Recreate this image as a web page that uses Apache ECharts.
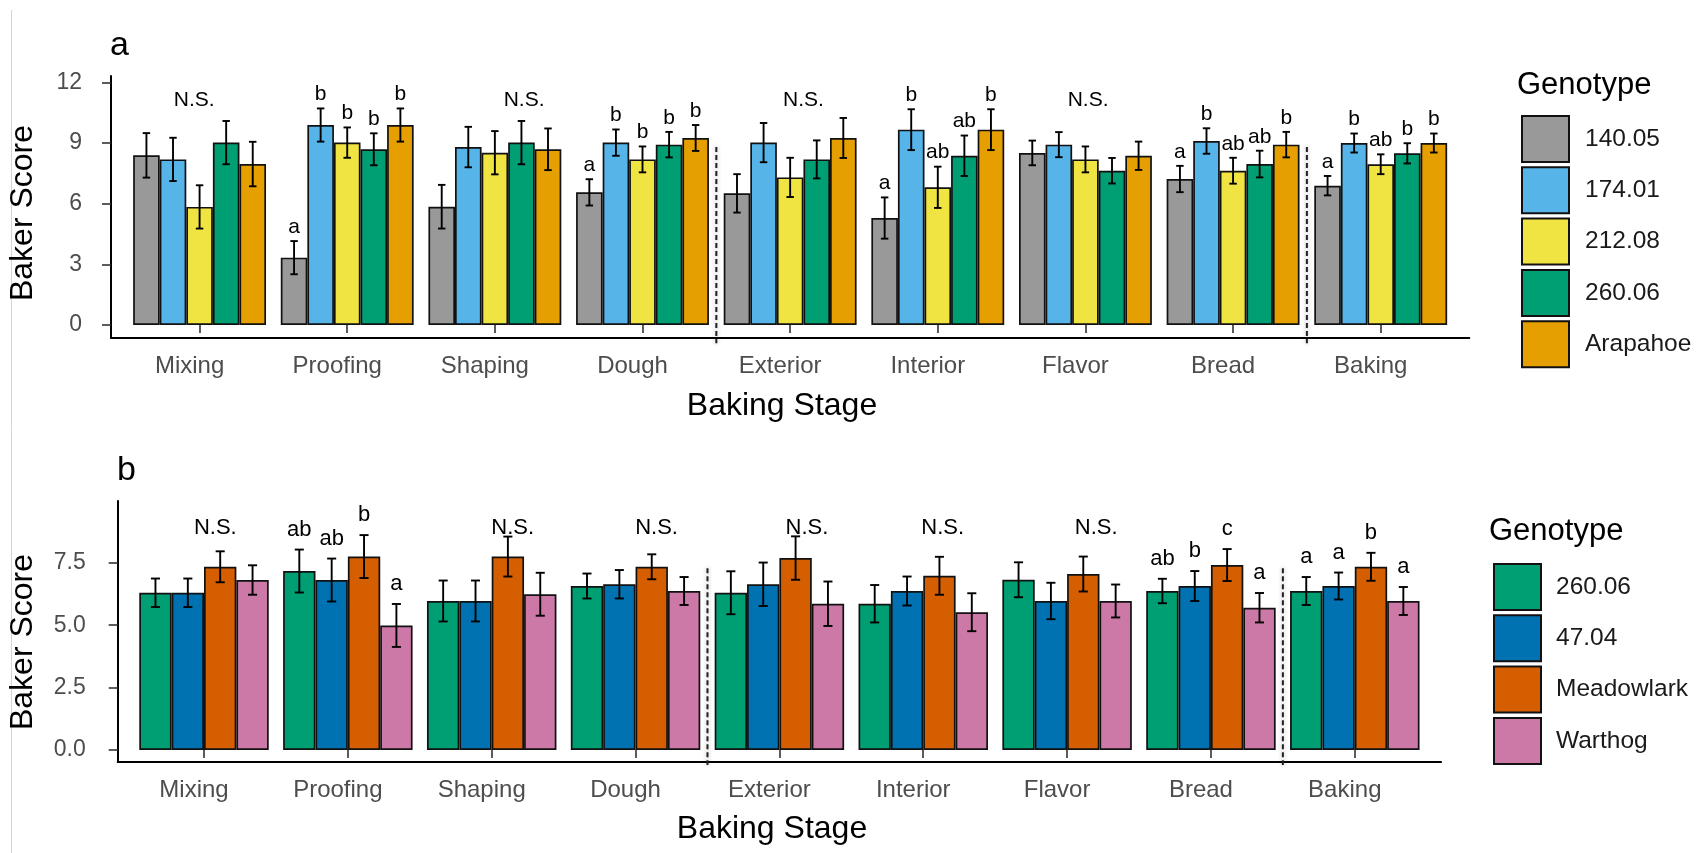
<!DOCTYPE html>
<html>
<head>
<meta charset="utf-8">
<title>Baker Score by Baking Stage</title>
<script src="https://cdn.jsdelivr.net/npm/echarts@6/dist/echarts.min.js"></script>
<style>
  html, body { margin: 0; padding: 0; background: #fff; }
  #chart { width: 1701px; height: 853px; }
</style>
</head>
<body>
<div id="chart"></div>
<script>
// ---------- data ----------
const stages = ['Mixing', 'Proofing', 'Shaping', 'Dough', 'Exterior', 'Interior', 'Flavor', 'Bread', 'Baking'];

// Panel a genotypes
const genotypesA = ['140.05', '174.01', '212.08', '260.06', 'Arapahoe'];
const meanA_14005 = [8.39, 3.33, 5.85, 6.56, 6.51, 5.29, 8.51, 7.22, 6.89];
const meanA_17401 = [8.19, 9.89, 8.80, 9.02, 9.02, 9.66, 8.92, 9.10, 9.00];
const meanA_21208 = [5.84, 9.02, 8.52, 8.19, 7.30, 6.81, 8.19, 7.63, 7.95];
const meanA_26006 = [9.02, 8.69, 9.02, 8.92, 8.19, 8.37, 7.63, 7.96, 8.49];
const meanA_Arap  = [7.96, 9.89, 8.69, 9.25, 9.25, 9.66, 8.37, 8.92, 9.00];
const seA_14005 = [1.10, 0.82, 1.08, 0.65, 0.95, 1.02, 0.61, 0.65, 0.48];
const seA_17401 = [1.07, 0.82, 1.00, 0.65, 0.97, 1.01, 0.62, 0.63, 0.47];
const seA_21208 = [1.07, 0.75, 1.07, 0.64, 0.97, 1.02, 0.64, 0.64, 0.49];
const seA_26006 = [1.07, 0.79, 1.07, 0.63, 0.94, 1.00, 0.63, 0.66, 0.50];
const seA_Arap  = [1.10, 0.82, 1.03, 0.64, 0.99, 1.01, 0.70, 0.63, 0.47];
const letA_14005 = ['', 'a', '', 'a', '', 'a', '', 'a', 'a'];
const letA_17401 = ['', 'b', '', 'b', '', 'b', '', 'b', 'b'];
const letA_21208 = ['', 'b', '', 'b', '', 'ab', '', 'ab', 'ab'];
const letA_26006 = ['', 'b', '', 'b', '', 'ab', '', 'ab', 'b'];
const letA_Arap  = ['', 'b', '', 'b', '', 'b', '', 'b', 'b'];
const groupLabelA = ['N.S.', '', 'N.S.', '', 'N.S.', '', 'N.S.', '', ''];

// Panel b genotypes
const genotypesB = ['260.06', '47.04', 'Meadowlark', 'Warthog'];
const meanB_26006 = [6.30, 7.17, 5.97, 6.57, 6.30, 5.86, 6.82, 6.37, 6.37];
const meanB_4704  = [6.30, 6.81, 5.97, 6.64, 6.64, 6.37, 5.97, 6.57, 6.57];
const meanB_Mead  = [7.34, 7.75, 7.75, 7.34, 7.69, 6.98, 7.05, 7.41, 7.34];
const meanB_Wart  = [6.81, 4.99, 6.24, 6.37, 5.86, 5.52, 5.97, 5.70, 5.97];
const seB_26006 = [0.57, 0.86, 0.82, 0.50, 0.86, 0.75, 0.70, 0.49, 0.56];
const seB_4704  = [0.57, 0.86, 0.82, 0.57, 0.87, 0.58, 0.73, 0.60, 0.54];
const seB_Mead  = [0.62, 0.86, 0.80, 0.50, 0.87, 0.76, 0.70, 0.64, 0.56];
const seB_Wart  = [0.59, 0.86, 0.86, 0.56, 0.89, 0.76, 0.66, 0.59, 0.56];
const letB_26006 = ['', 'ab', '', '', '', '', '', 'ab', 'a'];
const letB_4704  = ['', 'ab', '', '', '', '', '', 'b', 'a'];
const letB_Mead  = ['', 'b', '', '', '', '', '', 'c', 'b'];
const letB_Wart  = ['', 'a', '', '', '', '', '', 'a', 'a'];
const groupLabelB = ['N.S.', '', 'N.S.', 'N.S.', 'N.S.', 'N.S.', 'N.S.', '', ''];

const yTicksA = { max: 12, interval: 3 };
const yTicksB = { max: 7.5, interval: 2.5 };

// ---------- styling / layout ----------
const FONT = '"Liberation Sans", Arial, Helvetica, sans-serif';
const colorsA = ['#999999', '#56B4E9', '#F0E442', '#009E73', '#E69F00'];
const colorsB = ['#009E73', '#0072B2', '#D55E00', '#CC79A7'];
const TICK_GREY = '#4d4d4d';

// ggplot-like panel geometry (pixels)
const layoutA = { axisLeft: 111, axisRight: 1469.3, axisTop: 76, axisBottom: 337.7, zeroY: 325, pxPerUnit: 20.22,
                  labelMargin: 29, nsY: 11.13, nsSlot: [1.8, 0, 3.1, 0, 2.5, 0, 2.1, 0, 0],
                  letterGap: 14, letterSize: 21, dividerFrom: 8.8, dividerTo: -0.9 };
const layoutB = { axisLeft: 117.7, axisRight: 1441.1, axisTop: 501, axisBottom: 761.7, zeroY: 750, pxPerUnit: 24.96,
                  labelMargin: 32, nsY: 8.88, nsSlot: [1.85, 0, 2.15, 2.15, 2.35, 2.1, 2.4, 0, 0],
                  letterGap: 20, letterSize: 22, dividerFrom: 7.28, dividerTo: -0.6 };

function frameGrid(L) {
  return { left: L.axisLeft, top: L.axisTop, width: L.axisRight - L.axisLeft,
           height: L.axisBottom - L.axisTop, containLabel: false, outerBoundsMode: 'none' };
}
function dataGrid(L, yMax) {
  const span = L.axisRight - L.axisLeft;
  const band = span / (stages.length - 1 + 1.2);
  const left = L.axisLeft + 0.6 * band - band / 2;
  const top = L.zeroY - yMax * L.pxPerUnit;
  return { left: left, top: top, width: band * stages.length, height: L.zeroY - top,
           containLabel: false, outerBoundsMode: 'none', _yOffset: left - L.axisLeft };
}

const gA = dataGrid(layoutA, yTicksA.max);
const gB = dataGrid(layoutB, yTicksB.max);

function frameAxes(gi) {
  const line = { show: true, onZero: false, lineStyle: { color: '#000', width: 2 } };
  return {
    x: { type: 'value', gridIndex: gi, min: 0, max: 1, axisLine: line, axisTick: { show: false },
         axisLabel: { show: false }, splitLine: { show: false } },
    y: { type: 'value', gridIndex: gi, min: 0, max: 1, axisLine: line, axisTick: { show: false },
         axisLabel: { show: false }, splitLine: { show: false } }
  };
}

function dataAxes(gi, L, g, ticks, dec) {
  return {
    x: { type: 'category', gridIndex: gi, data: stages, position: 'bottom',
         offset: L.axisBottom - L.zeroY,
         axisLine: { show: false },
         axisTick: { show: true, alignWithLabel: true, length: 8, lineStyle: { color: '#333', width: 1.6 } },
         axisLabel: { show: true, interval: 0, margin: 17, fontSize: 24, fontFamily: FONT, color: TICK_GREY,
                      padding: [0, 20, 0, 0] },
         splitLine: { show: false } },
    y: { type: 'value', gridIndex: gi, min: 0, max: ticks.max, interval: ticks.interval,
         position: 'left', offset: g._yOffset,
         axisLine: { show: false },
         axisTick: { show: true, length: 9, lineStyle: { color: '#333', width: 1.6 } },
         axisLabel: { show: true, margin: L.labelMargin, fontSize: 23, fontFamily: FONT, color: TICK_GREY,
                      formatter: v => v.toFixed(dec) },
         splitLine: { show: false } }
  };
}

const fA = frameAxes(0), dA = dataAxes(1, layoutA, gA, yTicksA, 0);
const fB = frameAxes(2), dB = dataAxes(3, layoutB, gB, yTicksB, 1);

function barSeries(names, means, colors, axisIdx) {
  return names.map((name, k) => ({
    type: 'bar', name: name, xAxisIndex: axisIdx, yAxisIndex: axisIdx,
    data: means[k], barGap: '0%', barCategoryGap: '10%', clip: false, silent: true,
    itemStyle: { color: colors[k], borderColor: '#111', borderWidth: 1.7 },
    emphasis: { disabled: true }, z: 2
  }));
}

// error bars with significance letters, dodged like the bars
function errorSeries(means, ses, letters, axisIdx, L) {
  const n = means.length;
  const rows = [];
  for (let k = 0; k < n; k++) {
    for (let c = 0; c < stages.length; c++) rows.push([c, means[k][c], ses[k][c], k]);
  }
  return {
    type: 'custom', xAxisIndex: axisIdx, yAxisIndex: axisIdx, clip: false, silent: true, z: 5,
    encode: { x: 0, y: 1 }, data: rows,
    renderItem: function (params, api) {
      const c = api.value(0), m = api.value(1), s = api.value(2), k = api.value(3);
      const band = api.size([1, 0])[0];
      const bw = band * 0.9 / n;
      const x = api.coord([c, m])[0] + (k - (n - 1) / 2) * bw;
      const yt = api.coord([c, m + s])[1];
      const yb = api.coord([c, m - s])[1];
      const cap = bw * 0.14;
      const st = { stroke: '#000', lineWidth: 1.9 };
      const kids = [
        { type: 'line', shape: { x1: x, y1: yt, x2: x, y2: yb }, style: st },
        { type: 'line', shape: { x1: x - cap, y1: yt, x2: x + cap, y2: yt }, style: st },
        { type: 'line', shape: { x1: x - cap, y1: yb, x2: x + cap, y2: yb }, style: st }
      ];
      const t = letters[k][c];
      if (t) {
        kids.push({ type: 'text', style: { text: t, x: x, y: yt - L.letterGap, align: 'center',
          verticalAlign: 'middle', font: L.letterSize + 'px ' + FONT, fill: '#000' } });
      }
      return { type: 'group', children: kids };
    }
  };
}

// "N.S." labels over groups without significant differences
function groupLabelSeries(labels, n, axisIdx, L) {
  const rows = [];
  labels.forEach((t, c) => { if (t) rows.push([c, L.nsY]); });
  return {
    type: 'custom', xAxisIndex: axisIdx, yAxisIndex: axisIdx, clip: false, silent: true, z: 6,
    encode: { x: 0, y: 1 }, data: rows,
    renderItem: function (params, api) {
      const c = api.value(0), v = api.value(1);
      const band = api.size([1, 0])[0];
      const bw = band * 0.9 / n;
      const x = api.coord([c, v])[0] + (L.nsSlot[c] - (n - 1) / 2) * bw;
      const y = api.coord([c, v])[1];
      return { type: 'text', style: { text: labels[c], x: x, y: y, align: 'center', verticalAlign: 'middle',
               font: L.letterSize + 'px ' + FONT, fill: '#000' } };
    }
  };
}

// dashed separators between stage blocks
function dividerSeries(afterCats, axisIdx, L) {
  return {
    type: 'custom', xAxisIndex: axisIdx, yAxisIndex: axisIdx, clip: false, silent: true, z: 7,
    encode: { x: 0, y: 1 }, data: afterCats.map(c => [c, L.dividerFrom, L.dividerTo]),
    renderItem: function (params, api) {
      const c = api.value(0);
      const band = api.size([1, 0])[0];
      const x = api.coord([c, 0])[0] + band / 2;
      const y1 = api.coord([c, api.value(1)])[1];
      const y2 = api.coord([c, api.value(2)])[1];
      return { type: 'line', shape: { x1: x, y1: y1, x2: x, y2: y2 },
               style: { stroke: '#222', lineWidth: 2, lineDash: [5, 3],
                        shadowBlur: 4, shadowColor: 'rgba(0,0,0,0.35)' } };
    }
  };
}

const meansA = [meanA_14005, meanA_17401, meanA_21208, meanA_26006, meanA_Arap];
const sesA = [seA_14005, seA_17401, seA_21208, seA_26006, seA_Arap];
const letsA = [letA_14005, letA_17401, letA_21208, letA_26006, letA_Arap];
const meansB = [meanB_26006, meanB_4704, meanB_Mead, meanB_Wart];
const sesB = [seB_26006, seB_4704, seB_Mead, seB_Wart];
const letsB = [letB_26006, letB_4704, letB_Mead, letB_Wart];

function legendFor(names, left, top, padLeft) {
  return {
    data: names, orient: 'vertical', left: left, top: top, icon: 'rect',
    itemWidth: 47, itemHeight: 46, itemGap: 3.3, selectedMode: false,
    textStyle: { fontFamily: FONT, fontSize: 24.5, color: '#1a1a1a', padding: [0, 0, 0, padLeft] }
  };
}

function txt(text, x, y, size, opts) {
  return Object.assign({ type: 'text', x: x, y: y, silent: true,
    style: Object.assign({ text: text, font: size + 'px ' + FONT, fill: '#000',
                           align: 'left', verticalAlign: 'middle' }, (opts && opts.style) || {}) },
    opts && opts.el ? opts.el : {});
}

const option = {
  backgroundColor: '#ffffff',
  animation: false,
  grid: [frameGrid(layoutA), gA, frameGrid(layoutB), gB].map(g => { const o = Object.assign({}, g); delete o._yOffset; return o; }),
  xAxis: [fA.x, dA.x, fB.x, dB.x],
  yAxis: [fA.y, dA.y, fB.y, dB.y],
  legend: [legendFor(genotypesA, 1516, 110, 11), legendFor(genotypesB, 1488, 558, 10)],
  series: [].concat(
    barSeries(genotypesA, meansA, colorsA, 1),
    [errorSeries(meansA, sesA, letsA, 1, layoutA), groupLabelSeries(groupLabelA, 5, 1, layoutA), dividerSeries([3, 7], 1, layoutA)],
    barSeries(genotypesB, meansB, colorsB, 3),
    [errorSeries(meansB, sesB, letsB, 3, layoutB), groupLabelSeries(groupLabelB, 4, 3, layoutB), dividerSeries([3, 7], 3, layoutB)]
  ),
  graphic: [
    { type: 'line', silent: true, shape: { x1: 11.5, y1: 10, x2: 11.5, y2: 853 }, style: { stroke: '#d4d4d4', lineWidth: 1 } },
    txt('a', 110, 46, 34),
    txt('b', 117, 471, 34),
    txt('Baker Score', 23, 213, 32, { style: { align: 'center' }, el: { rotation: Math.PI / 2 } }),
    txt('Baker Score', 23, 642, 32, { style: { align: 'center' }, el: { rotation: Math.PI / 2 } }),
    txt('Baking Stage', 782, 406, 32, { style: { align: 'center' } }),
    txt('Baking Stage', 772, 829, 32, { style: { align: 'center' } }),
    txt('Genotype', 1517, 85, 31),
    txt('Genotype', 1489, 531, 31)
  ]
};

const chart = echarts.init(document.getElementById('chart'), null, { renderer: 'canvas' });
chart.setOption(option);
</script>
</body>
</html>
